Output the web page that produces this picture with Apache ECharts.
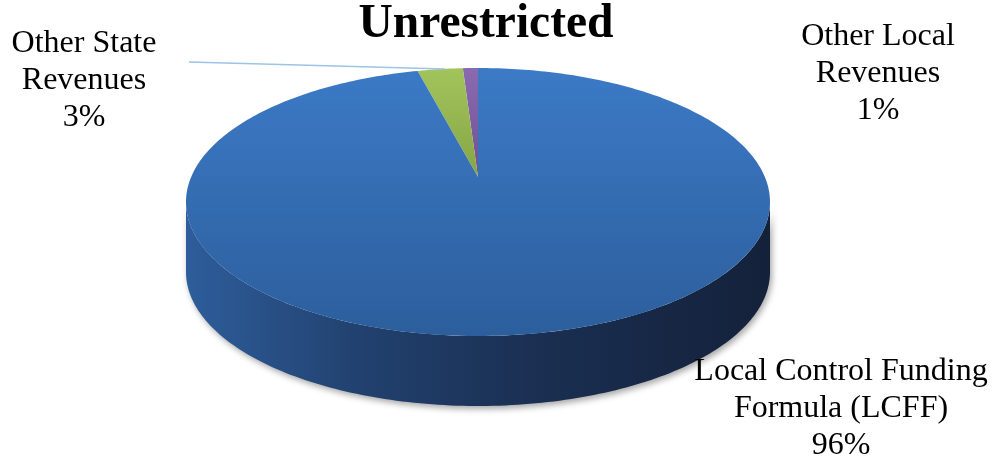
<!DOCTYPE html>
<html>
<head>
<meta charset="utf-8">
<script src="https://cdn.jsdelivr.net/npm/echarts@6/dist/echarts.min.js"></script>
<style>
html,body{margin:0;padding:0;background:#fff;}
#chart{width:994px;height:463px;}
</style>
</head>
<body>
<div id="chart"></div>
<script>
// Data (order: counter-clockwise starting at 12 o'clock)
const titleText = 'Unrestricted';
const categories = ['Other Local\nRevenues', 'Other State\nRevenues', 'Local Control Funding\nFormula (LCFF)'];
const values = [1, 3, 96];
const percentLabels = ['1%', '3%', '96%'];

const total = values.reduce((a, b) => a + b, 0);
const starts = [];
let acc = 0;
values.forEach(v => { starts.push(acc / total * Math.PI * 2); acc += v; });

// geometry of the tilted disc
const cx = 478, cy = 202, rx = 292, ry = 134, d = -0.187, thick = 70;
const k = Math.sqrt(1 - d * d);
function proj(phi, dy) {
  const x = -Math.sin(phi), y = -Math.cos(phi);
  const w = 1 + d * y;
  return [cx + rx * k * x / w, cy + ry * (y + d) / w + (dy || 0)];
}
function arc(a0, a1, dy) {
  const pts = [];
  const n = Math.max(2, Math.ceil((a1 - a0) / (Math.PI * 2) * 360));
  for (let i = 0; i <= n; i++) pts.push(proj(a0 + (a1 - a0) * i / n, dy));
  return pts;
}
const topFill = [
  new echarts.graphic.LinearGradient(0, 0, 0, 1, [{offset: 0, color: '#8a6bb0'}, {offset: 1, color: '#6f5192'}]),
  new echarts.graphic.LinearGradient(0, 0, 0, 1, [{offset: 0, color: '#a2c45c'}, {offset: 1, color: '#86a545'}]),
  new echarts.graphic.LinearGradient(0, 68, 0, 336, [{offset: 0, color: '#3c7ac6'}, {offset: 1, color: '#2c5e9c'}], true)
];
const sideFill = [
  '#4e3566', '#5d7428',
  new echarts.graphic.LinearGradient(186, 0, 770, 0, [
    {offset: 0, color: '#2e5d9b'}, {offset: 0.3, color: '#21416e'},
    {offset: 0.6, color: '#1a2f52'}, {offset: 1, color: '#14213a'}], true)
];

function renderItem(params, api) {
  const i = params.dataIndex;
  const a0 = starts[i];
  const a1 = a0 + api.value(0) / total * Math.PI * 2;
  const children = [];
  // front side wall (visible where screen y >= cy)
  const fs = Math.acos(d), fe = Math.PI * 2 - Math.acos(d);
  const s0 = Math.max(a0, fs), s1 = Math.min(a1, fe);
  if (s1 > s0) {
    const topArc = arc(s0, s1, 0);
    const botArc = arc(s0, s1, thick).reverse();
    children.push({
      type: 'polygon', z2: 1,
      shape: {points: topArc.concat(botArc)},
      style: {fill: sideFill[i], shadowBlur: 6, shadowColor: 'rgba(0,0,0,0.35)', shadowOffsetY: 3, shadowOffsetX: 2}
    });
  }
  const apexPt = [cx, cy + ry * d];
  children.push({
    type: 'polygon', z2: 2,
    shape: {points: [apexPt].concat(arc(a0, a1, 0))},
    style: {fill: topFill[i]}
  });
  return {type: 'group', children: children};
}

const chart = echarts.init(document.getElementById('chart'), null, {renderer: 'canvas'});
const labelFont = '32px "Liberation Serif", "Times New Roman", serif';
chart.setOption({
  animation: false,
  backgroundColor: '#ffffff',
  series: [{
    type: 'custom',
    coordinateSystem: 'none',
    renderItem: renderItem,
    data: values.map(v => [v])
  }],
  graphic: [
    {type: 'text', x: 486, y: 1, z: 10,
      style: {text: titleText, font: 'bold 47.5px "Liberation Serif", "Times New Roman", serif', textAlign: 'center', fill: '#000'}},
    {type: 'line', z: 10, shape: {x1: 189, y1: 62, x2: 445, y2: 69},
      style: {stroke: '#9dc3e6', lineWidth: 1.5}},
    {type: 'text', x: 878, y: 18, z: 10,
      style: {text: categories[0] + '\n' + percentLabels[0], font: labelFont, lineHeight: 37, textAlign: 'center', fill: '#000'}},
    {type: 'text', x: 84, y: 25, z: 10,
      style: {text: categories[1] + '\n' + percentLabels[1], font: labelFont, lineHeight: 37, textAlign: 'center', fill: '#000'}},
    {type: 'text', x: 841, y: 353, z: 10,
      style: {text: categories[2] + '\n' + percentLabels[2], font: labelFont, lineHeight: 37, textAlign: 'center', fill: '#000'}}
  ]
});
</script>
</body>
</html>
